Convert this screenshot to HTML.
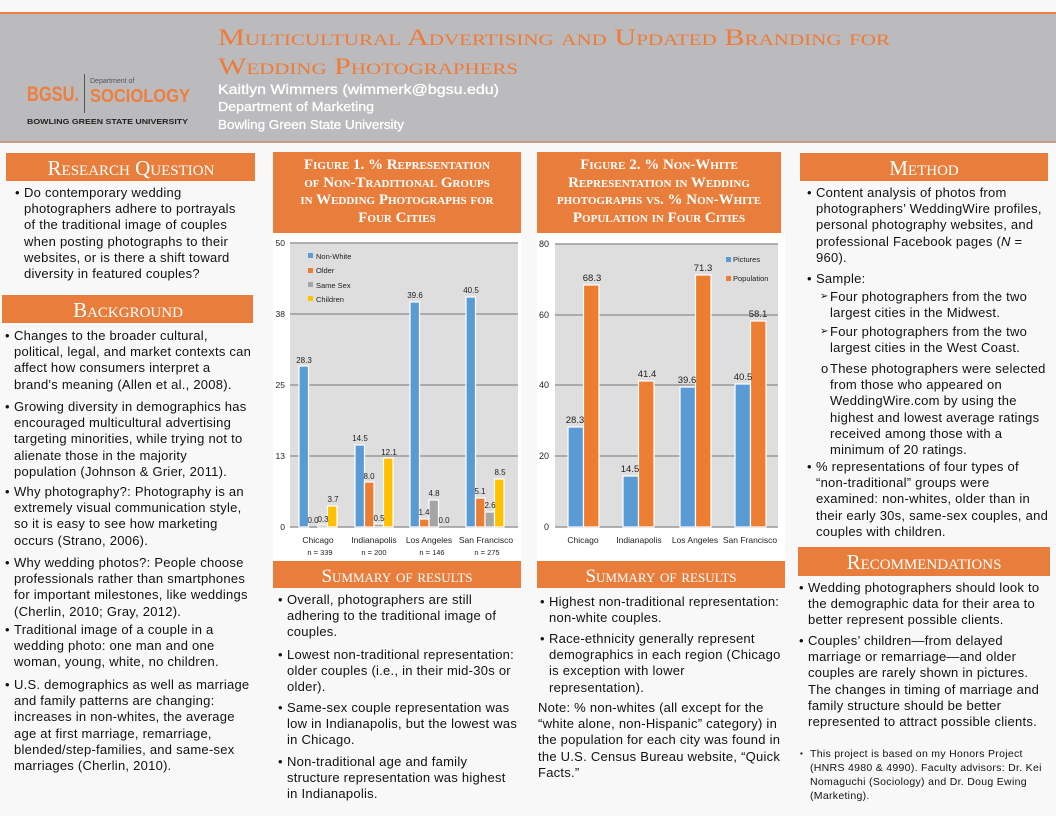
<!DOCTYPE html>
<html><head><meta charset="utf-8">
<style>
body{margin:0;width:1056px;height:816px;background:#f8f8f8;position:relative;overflow:hidden;font-family:"Liberation Sans",sans-serif;color:#111}
svg{position:absolute;left:0;top:0}
.p{position:absolute;font-size:13px;line-height:16.2px;white-space:nowrap;letter-spacing:0.25px}
.p b{position:absolute;left:-9px;font-weight:normal}
.s b{left:-10px;font-size:10px}
.f{font-size:10.5px;line-height:14px;letter-spacing:0.3px}
.f b{left:-10px;font-size:8px}
</style></head><body>
<svg width="1056" height="816" viewBox="0 0 1056 816" font-family="Liberation Sans, sans-serif">
<rect x="0" y="12" width="1056" height="131" fill="#bbbbbd"/>
<rect x="0" y="12" width="1056" height="2" fill="#ef7d45"/>
<rect x="0" y="141" width="1056" height="2" fill="#c99a80"/>
<text x="218" y="45" textLength="672" lengthAdjust="spacingAndGlyphs" font-family="Liberation Serif, serif" font-size="23" fill="#f07a36" style="font-variant:small-caps">Multicultural Advertising and Updated Branding for</text>
<text x="218" y="74" textLength="300" lengthAdjust="spacingAndGlyphs" font-family="Liberation Serif, serif" font-size="23" fill="#f07a36" style="font-variant:small-caps">Wedding Photographers</text>
<text x="218" y="94" textLength="281" lengthAdjust="spacingAndGlyphs" font-size="14" fill="#fff" stroke="#fff" stroke-width="0.3">Kaitlyn Wimmers (wimmerk@bgsu.edu)</text>
<text x="218" y="111" textLength="156" lengthAdjust="spacingAndGlyphs" font-size="13" fill="#fff" stroke="#fff" stroke-width="0.3">Department of Marketing</text>
<text x="218" y="129" textLength="186" lengthAdjust="spacingAndGlyphs" font-size="13" fill="#fff" stroke="#fff" stroke-width="0.3">Bowling Green State University</text>
<text x="27" y="101" font-size="21" font-weight="bold" fill="#ef7d3c" textLength="52" lengthAdjust="spacingAndGlyphs">BGSU.</text>
<rect x="84" y="74" width="1" height="39" fill="#555"/>
<text x="90" y="83" font-size="7" fill="#555">Department of</text>
<text x="90" y="102" font-size="18" font-weight="bold" fill="#ef7d3c" textLength="100" lengthAdjust="spacingAndGlyphs">SOCIOLOGY</text>
<text x="27" y="124" font-size="7" font-weight="bold" fill="#222" textLength="161" lengthAdjust="spacingAndGlyphs">BOWLING GREEN STATE UNIVERSITY</text>
<g fill="#e97e3c">
<rect x="6" y="153" width="249" height="28"/>
<rect x="2" y="295" width="251" height="28"/>
<rect x="273" y="152" width="248" height="81"/>
<rect x="537" y="152" width="244" height="81"/>
<rect x="273" y="561" width="248" height="27"/>
<rect x="537" y="561" width="248" height="27"/>
<rect x="800" y="153" width="248" height="28"/>
<rect x="798" y="547" width="252" height="29"/>
</g>
<g fill="#fff" font-family="Liberation Serif, serif" text-anchor="middle" style="font-variant:small-caps">
<text x="131" y="175" font-size="21">Research Question</text>
<text x="128" y="317" font-size="21">Background</text>
<text x="924" y="175" font-size="21">Method</text>
<text x="924" y="569" font-size="21">Recommendations</text>
<text x="397" y="582" font-size="19">Summary of results</text>
<text x="661" y="582" font-size="19">Summary of results</text>
<g font-size="15" font-weight="bold">
<text x="397" y="169">Figure 1. % Representation</text>
<text x="397" y="187">of Non-Traditional Groups</text>
<text x="397" y="204">in Wedding Photographs for</text>
<text x="397" y="222">Four Cities</text>
<text x="659" y="169">Figure 2. % Non-White</text>
<text x="659" y="187">Representation in Wedding</text>
<text x="659" y="204">photographs vs. % Non-White</text>
<text x="659" y="222">Population in Four Cities</text>
</g></g>
<rect x="273" y="233" width="248" height="327" fill="#fff"/>
<rect x="290" y="243" width="228" height="284" fill="#dedede"/>
<g stroke="#999" stroke-width="1.5">
<line x1="290" y1="243" x2="518" y2="243"/><line x1="290" y1="314" x2="518" y2="314"/>
<line x1="290" y1="385" x2="518" y2="385"/><line x1="290" y1="456" x2="518" y2="456"/>
<line x1="290" y1="527" x2="518" y2="527"/></g>
<g font-size="8.5" fill="#222" text-anchor="end">
<text x="285" y="246">50</text><text x="285" y="317">38</text><text x="285" y="388">25</text><text x="285" y="459">13</text><text x="285" y="530">0</text></g>
<g stroke="#fff" stroke-width="1.2">
<rect x="299" y="366" width="9.5" height="161" fill="#5b9bd5"/>
<rect x="318" y="525" width="9.5" height="2" fill="#a5a5a5"/>
<rect x="327.5" y="506" width="9.5" height="21" fill="#ffc000"/>
<rect x="355" y="445" width="9.5" height="82" fill="#5b9bd5"/>
<rect x="364.5" y="482" width="9.5" height="45" fill="#ed7d31"/>
<rect x="374" y="524" width="9.5" height="3" fill="#a5a5a5"/>
<rect x="383.5" y="458" width="9.5" height="69" fill="#ffc000"/>
<rect x="410" y="302" width="9.5" height="225" fill="#5b9bd5"/>
<rect x="419.5" y="519" width="9.5" height="8" fill="#ed7d31"/>
<rect x="429" y="500" width="9.5" height="27" fill="#a5a5a5"/>
<rect x="466" y="297" width="9.5" height="230" fill="#5b9bd5"/>
<rect x="475.5" y="498" width="9.5" height="29" fill="#ed7d31"/>
<rect x="485" y="512" width="9.5" height="15" fill="#a5a5a5"/>
<rect x="494.5" y="479" width="9.5" height="48" fill="#ffc000"/>
</g>
<g font-size="8" fill="#222" text-anchor="middle">
<text x="304" y="363">28.3</text><text x="313" y="523">0.0</text><text x="323" y="522">0.3</text><text x="333" y="502">3.7</text>
<text x="360" y="441">14.5</text><text x="369" y="479">8.0</text><text x="379" y="521">0.5</text><text x="389" y="455">12.1</text>
<text x="415" y="298">39.6</text><text x="424" y="515">1.4</text><text x="434" y="496">4.8</text><text x="444" y="523">0.0</text>
<text x="471" y="293">40.5</text><text x="480" y="494">5.1</text><text x="490" y="508">2.6</text><text x="500" y="475">8.5</text>
</g>
<g font-size="7.5" fill="#222">
<rect x="308" y="253" width="5" height="5" fill="#5b9bd5"/><text x="316" y="259">Non-White</text>
<rect x="308" y="268" width="5" height="5" fill="#ed7d31"/><text x="316" y="273">Older</text>
<rect x="308" y="282" width="5" height="5" fill="#a5a5a5"/><text x="316" y="288">Same Sex</text>
<rect x="308" y="296" width="5" height="5" fill="#ffc000"/><text x="316" y="302">Children</text>
</g>
<g font-size="8.5" fill="#222" text-anchor="middle">
<text x="318" y="543">Chicago</text><text x="374" y="543">Indianapolis</text><text x="429" y="543">Los Angeles</text><text x="486" y="543">San Francisco</text>
<text x="320" y="555" font-size="7.5">n = 339</text><text x="374" y="555" font-size="7.5">n = 200</text><text x="432" y="555" font-size="7.5">n = 146</text><text x="487" y="555" font-size="7.5">n = 275</text>
</g>
<rect x="537" y="233" width="248" height="327" fill="#fff"/>
<rect x="555" y="244" width="223" height="283" fill="#dedede"/>
<g stroke="#999" stroke-width="1.5">
<line x1="555" y1="244" x2="778" y2="244"/><line x1="555" y1="315" x2="778" y2="315"/>
<line x1="555" y1="385" x2="778" y2="385"/><line x1="555" y1="456" x2="778" y2="456"/>
<line x1="555" y1="527" x2="778" y2="527"/></g>
<g font-size="9" fill="#222" text-anchor="end">
<text x="549" y="247">80</text><text x="549" y="318">60</text><text x="549" y="388">40</text><text x="549" y="459">20</text><text x="549" y="530">0</text></g>
<g stroke="#fff" stroke-width="1.2">
<rect x="568" y="427" width="15.5" height="100" fill="#5b9bd5"/>
<rect x="583.5" y="285" width="15.5" height="242" fill="#ed7d31"/>
<rect x="623" y="476" width="15.5" height="51" fill="#5b9bd5"/>
<rect x="638.5" y="381" width="15.5" height="146" fill="#ed7d31"/>
<rect x="680" y="387" width="15.5" height="140" fill="#5b9bd5"/>
<rect x="695.5" y="275" width="15.5" height="252" fill="#ed7d31"/>
<rect x="735" y="384" width="15.5" height="143" fill="#5b9bd5"/>
<rect x="750.5" y="321" width="15.5" height="206" fill="#ed7d31"/>
</g>
<g font-size="9.5" fill="#222" text-anchor="middle">
<text x="575" y="423">28.3</text><text x="592" y="281">68.3</text>
<text x="630" y="472">14.5</text><text x="647" y="377">41.4</text>
<text x="687" y="383">39.6</text><text x="703" y="271">71.3</text>
<text x="743" y="380">40.5</text><text x="758" y="317">58.1</text>
</g>
<g font-size="7.5" fill="#222">
<rect x="726" y="257" width="5" height="5" fill="#5b9bd5"/><text x="733" y="262">Pictures</text>
<rect x="726" y="276" width="5" height="5" fill="#ed7d31"/><text x="733" y="281">Population</text>
</g>
<g font-size="8.5" fill="#222" text-anchor="middle">
<text x="583" y="543">Chicago</text><text x="639" y="543">Indianapolis</text><text x="695" y="543">Los Angeles</text><text x="750" y="543">San Francisco</text>
</g>
</svg>

<div class="p" style="left:24px;top:185px"><b>•</b>Do contemporary wedding<br>photographers adhere to portrayals<br>of the traditional image of couples<br>when posting photographs to their<br>websites, or is there a shift toward<br>diversity in featured couples?</div>

<div class="p" style="left:14px;top:328px"><b>•</b>Changes to the broader cultural,<br>political, legal, and market contexts can<br>affect how consumers interpret a<br>brand's meaning (Allen et al., 2008).</div>
<div class="p" style="left:14px;top:399px"><b>•</b>Growing diversity in demographics has<br>encouraged multicultural advertising<br>targeting minorities, while trying not to<br>alienate those in the majority<br>population (Johnson &amp; Grier, 2011).</div>
<div class="p" style="left:14px;top:484px"><b>•</b>Why photography?: Photography is an<br>extremely visual communication style,<br>so it is easy to see how marketing<br>occurs (Strano, 2006).</div>
<div class="p" style="left:14px;top:555px"><b>•</b>Why wedding photos?: People choose<br>professionals rather than smartphones<br>for important milestones, like weddings<br>(Cherlin, 2010; Gray, 2012).</div>
<div class="p" style="left:14px;top:622px"><b>•</b>Traditional image of a couple in a<br>wedding photo: one man and one<br>woman, young, white, no children.</div>
<div class="p" style="left:14px;top:677px"><b>•</b>U.S. demographics as well as marriage<br>and family patterns are changing:<br>increases in non-whites, the average<br>age at first marriage, remarriage,<br>blended/step-families, and same-sex<br>marriages (Cherlin, 2010).</div>

<div class="p" style="left:287px;top:592px"><b>•</b>Overall, photographers are still<br>adhering to the traditional image of<br>couples.</div>
<div class="p" style="left:287px;top:647px"><b>•</b>Lowest non-traditional representation:<br>older couples (i.e., in their mid-30s or<br>older).</div>
<div class="p" style="left:287px;top:700px"><b>•</b>Same-sex couple representation was<br>low in Indianapolis, but the lowest was<br>in Chicago.</div>
<div class="p" style="left:287px;top:754px"><b>•</b>Non-traditional age and family<br>structure representation was highest<br>in Indianapolis.</div>

<div class="p" style="left:549px;top:594px"><b>•</b>Highest non-traditional representation:<br>non-white couples.</div>
<div class="p" style="left:549px;top:631px"><b>•</b>Race-ethnicity generally represent<br>demographics in each region (Chicago<br>is exception with lower<br>representation).</div>
<div class="p" style="left:538px;top:700px">Note: % non-whites (all except for the<br>“white alone, non-Hispanic” category) in<br>the population for each city was found in<br>the U.S. Census Bureau website, “Quick<br>Facts.”</div>

<div class="p" style="left:816px;top:185px"><b>•</b>Content analysis of photos from<br>photographers’ WeddingWire profiles,<br>personal photography websites, and<br>professional Facebook pages (<i>N</i> =<br>960).</div>
<div class="p" style="left:816px;top:271px"><b>•</b>Sample:</div>
<div class="p s" style="left:830px;top:289px"><b>➢</b>Four photographers from the two<br>largest cities in the Midwest.</div>
<div class="p s" style="left:830px;top:324px"><b>➢</b>Four photographers from the two<br>largest cities in the West Coast.</div>
<div class="p" style="left:830px;top:361px"><b>o</b>These photographers were selected<br>from those who appeared on<br>WeddingWire.com by using the<br>highest and lowest average ratings<br>received among those with a<br>minimum of 20 ratings.</div>
<div class="p" style="left:816px;top:459px"><b>•</b>% representations of four types of<br>“non-traditional” groups were<br>examined: non-whites, older than in<br>their early 30s, same-sex couples, and<br>couples with children.</div>

<div class="p" style="left:808px;top:580px"><b>•</b>Wedding photographers should look to<br>the demographic data for their area to<br>better represent possible clients.</div>
<div class="p" style="left:808px;top:633px"><b>•</b>Couples’ children—from delayed<br>marriage or remarriage—and older<br>couples are rarely shown in pictures.<br>The changes in timing of marriage and<br>family structure should be better<br>represented to attract possible clients.</div>
<div class="p f" style="left:810px;top:747px"><b>▪</b>This project is based on my Honors Project<br>(HNRS 4980 &amp; 4990). Faculty advisors: Dr. Kei<br>Nomaguchi (Sociology) and Dr. Doug Ewing<br>(Marketing).</div>
</body></html>
